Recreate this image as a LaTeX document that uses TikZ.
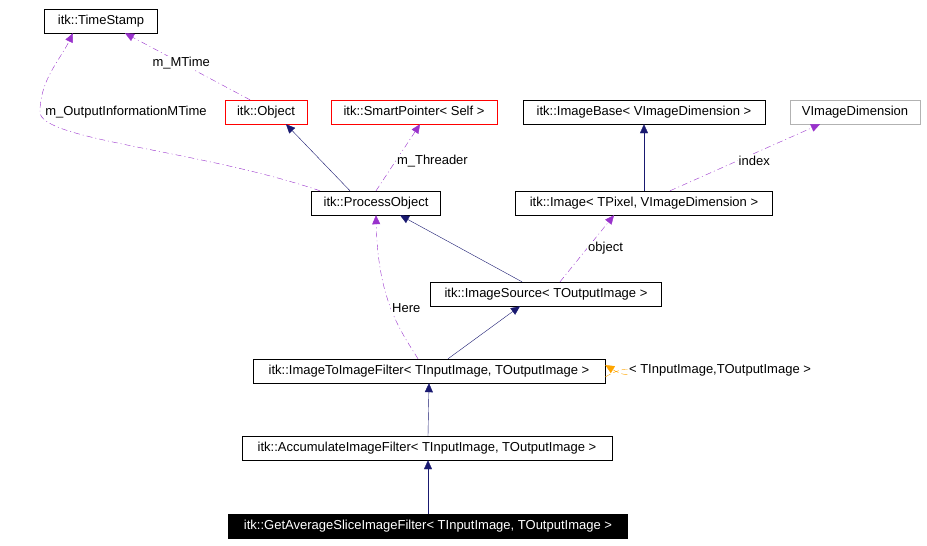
\documentclass[tikz,border=0pt]{standalone}
\usepackage{fontspec}
\setmainfont{Liberation Sans}
\usetikzlibrary{arrows.meta}
\definecolor{inh}{RGB}{25,25,112}
\definecolor{use}{RGB}{153,50,204}
\definecolor{tmpl}{RGB}{255,165,0}
\begin{document}
\begin{tikzpicture}[x=1pt,y=-1pt,
    cls/.style = {draw, rectangle, minimum height=24pt, inner sep=3pt, text height=9pt, text depth=3pt, font=\fontsize{13}{15}\selectfont},
    lbl/.style = {font=\fontsize{13}{15}\selectfont, fill=white, inner sep=1pt},
    isa/.style = {draw=inh, -{Triangle[length=9pt,width=8pt]}},
    has/.style = {draw=use, dash pattern=on 6pt off 3pt on 1pt off 3pt, -{Triangle[length=9pt,width=8pt]}},
    tpl/.style = {draw=tmpl, dash pattern=on 6pt off 3pt, -{Triangle[length=9pt,width=8pt]}}]
        \useasboundingbox (0,0) rectangle (927,546);
        \node[cls, minimum width=113pt] (ts) at (101,21) {itk::TimeStamp};
        \node[cls, draw=red, minimum width=82pt] (obj) at (266,112) {itk::Object};
        \node[cls, draw=red, minimum width=166pt] (sp) at (414,112) {itk::SmartPointer< Self >};
        \node[cls, minimum width=242pt] (ib) at (644,112) {itk::ImageBase< VImageDimension >};
        \node[cls, draw=gray!60, minimum width=130pt] (vd) at (855,112) {VImageDimension};
        \node[cls, minimum width=129pt] (po) at (376,203) {itk::ProcessObject};
        \node[cls, minimum width=257pt] (img) at (644,203) {itk::Image< TPixel, VImageDimension >};
        \node[cls, minimum width=231pt] (src) at (546,294) {itk::ImageSource< TOutputImage >};
        \node[cls, minimum width=352pt] (itif) at (429,371) {itk::ImageToImageFilter< TInputImage, TOutputImage >};
        \node[cls, minimum width=370pt] (acc) at (427,448) {itk::AccumulateImageFilter< TInputImage, TOutputImage >};
        \node[cls, fill=black, text=white, minimum width=399pt] (gas) at (428,526) {itk::GetAverageSliceImageFilter< TInputImage, TOutputImage >};
        \coordinate (bend) at (40,112);
        \draw[isa] ([xshift=-26pt]po.north) -- ([xshift=20pt]obj.south);
        \draw[has] (po.north) -- node[lbl, right, pos=0.45] {m\_Threader} ([xshift=6pt]sp.south);
        \draw[has] ([xshift=-16pt]obj.north) -- node[lbl, pos=0.55] {m\_MTime} ([xshift=24pt]ts.south);
        \draw[has] ([xshift=-56pt]po.north) .. controls (200,150) and (40,140) .. (bend) .. controls (40,80) and (60,60) .. ([xshift=-28pt]ts.south);
        \node[lbl] (omt) at (126,112) {m\_OutputInformationMTime};
        \draw[isa] (img.north) -- (ib.south);
        \draw[has] ([xshift=26pt]img.north) -- node[lbl, right, pos=0.45] {index} ([xshift=-35pt]vd.south);
        \draw[isa] ([xshift=-24pt]src.north) -- ([xshift=24pt]po.south);
        \draw[has] ([xshift=14pt]src.north) -- node[lbl, right, pos=0.5] {object} ([xshift=-30pt]img.south);
        \draw[isa] ([xshift=19pt]itif.north) -- ([xshift=-26pt]src.south);
        \draw[has] ([xshift=-11pt]itif.north) .. controls (400,330) and (378,300) .. node[lbl, pos=0.5, right] {Here} (po.south);
        \draw[tpl] ([yshift=-6pt]itif.east) .. controls (640,356) and (640,386) .. ([yshift=6pt]itif.east);
        \node[lbl] (tlbl) at (720,370) {< TInputImage,TOutputImage >};
        \draw[isa] (acc.north) ++(1,0) -- (itif.south);
        \draw[isa] (gas.north) -- ([xshift=1pt]acc.south);
\end{tikzpicture}
\end{document}
